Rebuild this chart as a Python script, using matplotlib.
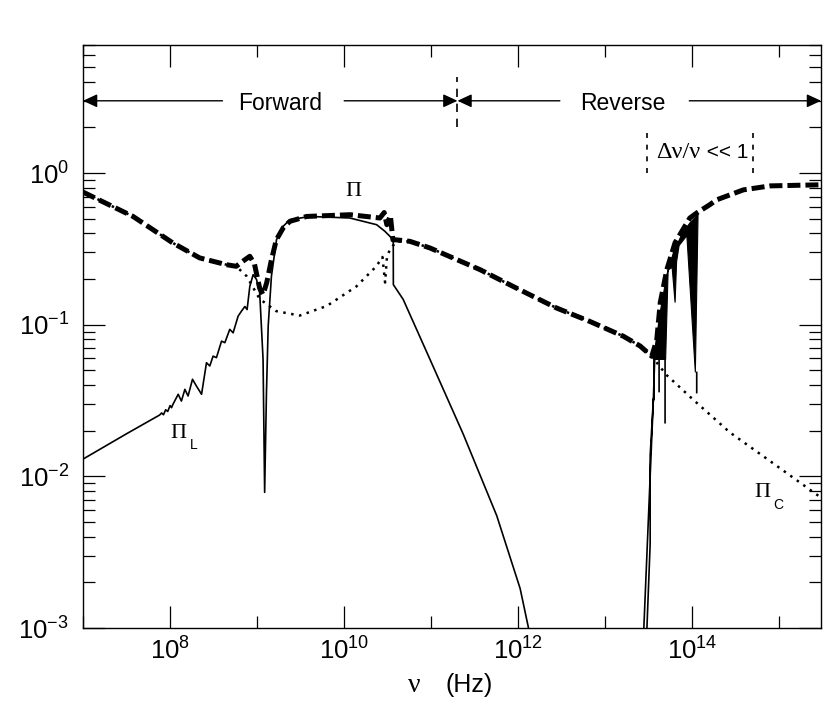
import numpy as np
import matplotlib.pyplot as plt
from matplotlib.ticker import FixedLocator, LogLocator, NullFormatter

plt.rcParams['font.family'] = ['Liberation Sans', 'DejaVu Sans']
plt.rcParams['mathtext.fontset'] = 'custom'
plt.rcParams['mathtext.rm'] = 'Liberation Sans'
plt.rcParams['mathtext.it'] = 'Liberation Sans:italic'
plt.rcParams['mathtext.bf'] = 'Liberation Sans:bold'

nan = np.nan

# total polarization  Pi (thick dashed)
nu_tot = [1e7, 3.76e7, 1.08e8, 2.19e8, 4.45e8, 5.75e8, 7.08e8, 8.24e8, 9.33e8,
          1.07e9, 1.17e9, 1.29e9, 1.45e9, 1.66e9, 2.0e9, 2.38e9, 3.7e9, 1.17e10,
          2.57e10, 2.88e10, 3.09e10, 3.39e10, 3.63e10, 3.98e10, 5.69e10, 9.66e10,
          3.63e11, 8.71e11, 2.75e12, 6.68e12, 1.61e13, 2.51e13, 3.41e13, 3.89e13,
          4.27e13, 5.08e13, 6.31e13, 9.33e13, 1.12e14, 1.58e14, 1.9e14, 3.85e14,
          7.8e14, 3e15]
pi_tot = [0.75, 0.518, 0.346, 0.276, 0.249, 0.243, 0.266, 0.283, 0.251,
          0.174, 0.158, 0.19, 0.263, 0.363, 0.437, 0.481, 0.518, 0.532,
          0.506, 0.55, 0.457, 0.525, 0.363, 0.363, 0.355, 0.321,
          0.231, 0.179, 0.129, 0.105, 0.084, 0.0724, 0.062, 0.0794,
          0.14, 0.231, 0.347, 0.506, 0.546, 0.619, 0.667, 0.776,
          0.824, 0.838]

# circular part  Pi_C (dotted)
nu_c = [1e7, 3.76e7, 1.08e8, 2.19e8, 4.45e8, 5.75e8, 7.59e8, 1.07e9, 1.66e9,
        3.09e9, 6.31e9, 1.38e10, 2.34e10, 2.75e10, 2.95e10, 3.1e10, 3.35e10,
        3.98e10, 5.69e10, 9.66e10, 3.63e11, 8.71e11, 2.75e12, 6.68e12, 1.61e13,
        2.51e13, 3.41e13, 5.01e13, 1e14, 2.69e14, 6.61e14, 3e15]
pi_c = [0.75, 0.518, 0.346, 0.276, 0.249, 0.243, 0.209, 0.148, 0.123,
        0.115, 0.133, 0.179, 0.243, 0.28, 0.19, 0.28, 0.313,
        0.355, 0.355, 0.321, 0.231, 0.179, 0.129, 0.105, 0.084,
        0.0724, 0.062, 0.0468, 0.0324, 0.0195, 0.0135, 0.00724]

# linear part  Pi_L (solid), forward side
nu_l = [1e7, 3.16e7, 7.59e7, 8.0e7, 8.4e7, 8.9e7, 9.4e7, 1.0e8, 1.04e8, 1.08e8,
        1.24e8, 1.35e8, 1.48e8, 1.61e8, 1.81e8, 2.01e8, 2.30e8, 2.62e8, 2.86e8,
        3.12e8, 3.41e8, 3.90e8, 4.26e8, 4.85e8, 5.30e8, 6.05e8, 6.61e8, 7.23e8,
        7.67e8, 8.24e8, 9.0e8, 9.84e8, 1.07e9, 1.17e9, 1.22e9, 1.28e9, 1.34e9,
        1.46e9, 1.67e9, 1.99e9, 2.38e9, 4.04e9, 1.16e10, 2.36e10, 2.94e10,
        3.66e10, 3.67e10, 4.76e10, 9.66e10, 2.33e11, 5.65e11, 1.05e12, 1.30e12,
        1.58e12]
pi_l = [0.0130, 0.0191, 0.0254, 0.0262, 0.0255, 0.0275, 0.0268, 0.0293, 0.0284, 0.0299,
        0.0348, 0.0314, 0.0375, 0.0339, 0.0437, 0.0394, 0.0348, 0.0562, 0.0535,
        0.0621, 0.0607, 0.078, 0.0762, 0.0933, 0.0885, 0.114, 0.123, 0.132,
        0.126, 0.179, 0.214, 0.199, 0.163, 0.0592, 0.00785, 0.0357, 0.098,
        0.209, 0.364, 0.446, 0.493, 0.518, 0.506, 0.457, 0.413,
        0.364, 0.184, 0.147, 0.0592, 0.019, 0.00551, 0.00182, 0.00102,
        0.0005]

# Pi_L, reverse side: steep strokes (nan breaks between pieces)
nu_lr = [2.63e13, 3.56e13, 3.72e13, nan, 2.9e13, 3.27e13, 3.27e13, 3.56e13, nan,
         3.63e13, 3.63e13, nan, 4.14e13, 4.14e13, nan, 4.85e13, 4.85e13, nan,
         1.12e14, 1.12e14]
pi_lr = [5e-4, 0.0324, 0.07, nan, 6e-4, 0.0036, 0.0137, 0.0324, nan,
         0.059, 0.0322, nan, 0.1, 0.0363, nan, 0.06, 0.0226, nan,
         0.0485, 0.0357]

# Pi_L, reverse side: the fast oscillations seen as solid black wedges
wedge_nu = [3.56e13, 4.26e13, 5.08e13, 6.05e13, 7.55e13, 9.42e13, 1.16e14, 1.08e14,
            8.63e13, 7.03e13, 6.58e13, 6.32e13, 5.85e13, 5.26e13, 4.92e13]
wedge_pi = [0.0591, 0.1205, 0.214, 0.299, 0.394, 0.472, 0.532, 0.0485,
            0.387, 0.333, 0.261, 0.140, 0.238, 0.231, 0.0591]

# annotations
nu_switch = 2e11
arrow_y = 3.0
fwd_left = [4.0e8, 1e7]
fwd_right = [1e10, 2e11]
rev_left = [3.0e12, 2e11]
rev_right = [9.2e13, 3e15]
narrow_band = [2.99e13, 4.9e14]

fig = plt.figure(figsize=(8.3, 7.01), dpi=100)
ax = fig.add_axes([0.1, 0.1041, 0.8892, 0.8317])
ax.set_xscale('log')
ax.set_yscale('log')
ax.set_xlim(1e7, 3e15)
ax.set_ylim(1e-3, 7)

ax.plot(nu_c, pi_c, color='k', lw=1.8, ls=(0, (1, 2.2)), zorder=2)
ax.plot(nu_l, pi_l, color='k', lw=1.2, zorder=3)
ax.plot(nu_lr, pi_lr, color='k', lw=1.2, zorder=3)
ax.fill(wedge_nu, wedge_pi, color='k', lw=0.8, zorder=3)
ax.plot(nu_tot, pi_tot, color='k', lw=3.6, ls=(0, (2.6, 1.0)), zorder=4)

# Forward / Reverse arrows
aprops = dict(arrowstyle='-|>,head_length=0.43,head_width=0.2', color='k',
              lw=1.0, shrinkA=0, shrinkB=0, mutation_scale=20)
for seg in [fwd_left, fwd_right, rev_left, rev_right]:
    ax.annotate('', xy=(seg[1], arrow_y), xytext=(seg[0], arrow_y),
                arrowprops=aprops, annotation_clip=False)
ax.text(1.82e9, 2.61, 'Forward', fontsize=16.5, ha='center', va='baseline')
ax.text(1.58e13, 2.61, 'Reverse', fontsize=16.5, ha='center', va='baseline')
ax.plot([nu_switch, nu_switch], [2.0, 4.3], color='k', lw=1.2, ls=(0, (5, 4)))

# narrow band bracket
for nb in narrow_band:
    ax.plot([nb, nb], [1.0, 1.93], color='k', lw=1.2, ls=(0, (3, 4)))
ax.text(1.22e14, 1.255, 'Δν/ν', family='Liberation Serif', fontsize=17.5,
        ha='right', va='baseline')
ax.text(1.25e14, 1.255, ' << 1', fontsize=15, ha='left', va='baseline')

# curve labels
ax.text(1.27e10, 0.71, 'Π', family='Liberation Serif', fontsize=16,
        ha='center', va='baseline')
ax.text(1.25e8, 0.01786, 'Π', family='Liberation Serif', fontsize=16,
        ha='center', va='baseline')
ax.annotate('L', xy=(1.25e8, 0.01786), xytext=(10.8, -7.9),
            textcoords='offset points', fontsize=10, ha='center', va='baseline')
ax.text(6.3e14, 0.00728, 'Π', family='Liberation Serif', fontsize=16,
        ha='center', va='baseline')
ax.annotate('C', xy=(6.3e14, 0.00728), xytext=(11.8, -8.4),
            textcoords='offset points', fontsize=10, ha='center', va='baseline')

# axis label
ax.text(0.449, -0.1098, 'ν', family='Liberation Serif', fontsize=20,
        ha='center', va='baseline', transform=ax.transAxes)
ax.text(0.523, -0.1098, '(Hz)', fontsize=18, ha='center', va='baseline',
        transform=ax.transAxes)

# ticks
ax.xaxis.set_major_locator(FixedLocator([1e8, 1e10, 1e12, 1e14]))
ax.xaxis.set_minor_locator(FixedLocator([1e7, 1e9, 1e11, 1e13, 1e15]))
ax.yaxis.set_major_locator(FixedLocator([1e-3, 1e-2, 1e-1, 1e0]))
ax.yaxis.set_minor_locator(LogLocator(base=10, subs=np.arange(2, 10), numticks=20))
ax.xaxis.set_minor_formatter(NullFormatter())
ax.yaxis.set_minor_formatter(NullFormatter())
ax.tick_params(which='both', direction='in', top=True, right=True, width=0.9,
               labelsize=18.5)
ax.tick_params(which='major', length=16)
ax.tick_params(which='minor', length=8.5)
ax.tick_params(axis='x', which='major', pad=7)
ax.tick_params(axis='y', which='major', pad=10)
for s in ax.spines.values():
    s.set_linewidth(1.0)

fig.savefig('out.png', dpi=100)
